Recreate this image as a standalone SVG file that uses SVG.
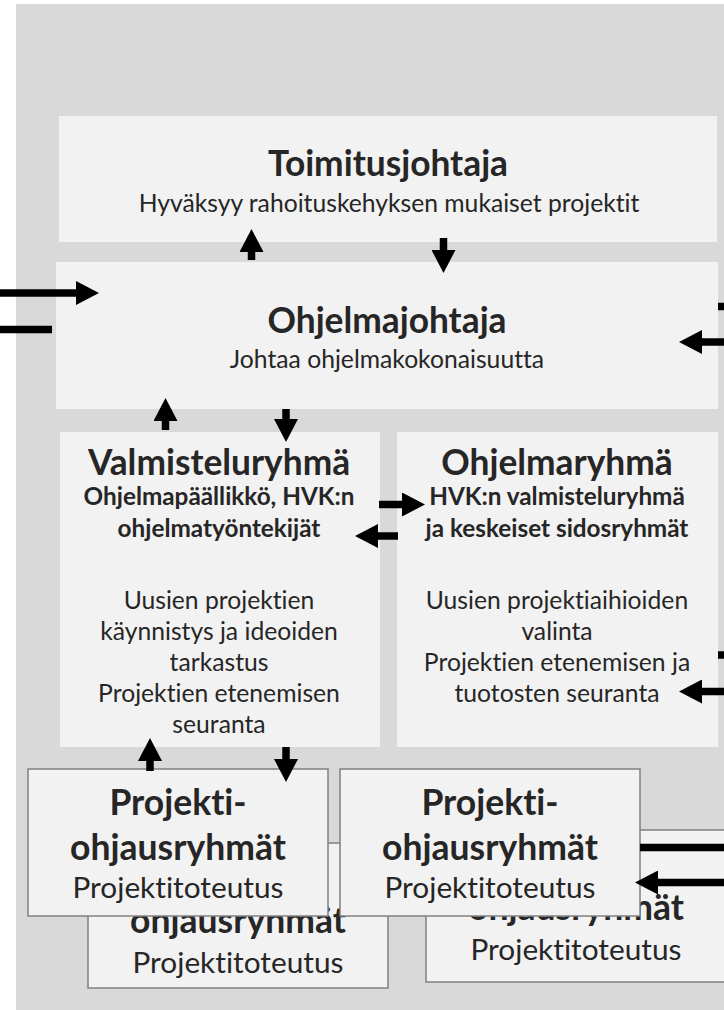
<svg xmlns="http://www.w3.org/2000/svg" width="724" height="1010" viewBox="0 0 724 1010">
<style>
.panel{fill:#d9d9d9}
.box{fill:#f2f2f2}
.bbox{fill:#f2f2f2;stroke:#808080;stroke-width:1.5}
text{font-family:Lato,"Liberation Sans",sans-serif;fill:#262626;text-anchor:middle;font-variant-ligatures:none;font-feature-settings:"liga" 0,"dlig" 0}
.t{font-size:35.3px;font-weight:700}
.s{font-size:24.7px}
.sb{font-size:24.3px;font-weight:700}
.ft{font-size:35.5px;font-weight:700}
.fs{font-size:29.8px}
.c{fill:none;stroke:#000;stroke-width:7.5}
.ca{fill:none;stroke:#000;stroke-width:7.5;marker-end:url(#ah)}
</style>
<defs>
<marker id="ah" markerUnits="userSpaceOnUse" markerWidth="24" markerHeight="24" viewBox="0 0 23 24" refX="1" refY="12" orient="auto">
<path d="M0,0 L23,12 L0,24 Z" fill="#000"/>
</marker>
</defs>
<rect class="panel" x="16" y="4" width="708" height="1006"/>
<g id="toimitusjohtaja">
<rect class="box" x="59" y="116" width="658" height="126"/>
<text class="t" x="388" y="176">Toimitusjohtaja</text>
<text class="s" x="389" y="212">Hyväksyy rahoituskehyksen mukaiset projektit</text>
</g>
<g id="ohjelmajohtaja">
<rect class="box" x="56" y="262" width="662" height="147"/>
<text class="t" x="387" y="333">Ohjelmajohtaja</text>
<text class="s" x="387" y="368">Johtaa ohjelmakokonaisuutta</text>
</g>
<g id="valmisteluryhma">
<rect class="box" x="60" y="432" width="320" height="315"/>
<text class="t" x="219" y="475">Valmisteluryhmä</text>
<text class="sb" x="219" y="505">Ohjelmapäällikkö, HVK:n</text>
<text class="sb" x="219" y="537">ohjelmatyöntekijät</text>
<text class="s" x="219" y="609">Uusien projektien</text>
<text class="s" x="219" y="640">käynnistys ja ideoiden</text>
<text class="s" x="219" y="671">tarkastus</text>
<text class="s" x="219" y="702">Projektien etenemisen</text>
<text class="s" x="219" y="733">seuranta</text>
</g>
<g id="ohjelmaryhma">
<rect class="box" x="397" y="432" width="321" height="315"/>
<text class="t" x="557" y="475">Ohjelmaryhmä</text>
<text class="sb" x="557" y="505">HVK:n valmisteluryhmä</text>
<text class="sb" x="557" y="537">ja keskeiset sidosryhmät</text>
<text class="s" x="557" y="609">Uusien projektiaihioiden</text>
<text class="s" x="557" y="640">valinta</text>
<text class="s" x="557" y="671">Projektien etenemisen ja</text>
<text class="s" x="557" y="702">tuotosten seuranta</text>
</g>
<g id="projektiohjausryhmat-back-left">
<rect class="bbox" x="88" y="843" width="300" height="145"/>
<text class="ft" x="238" y="933">ohjausryhmät</text>
<text class="fs" x="238" y="973">Projektitoteutus</text>
</g>
<g id="projektiohjausryhmat-back-right">
<rect class="bbox" x="426" y="830" width="302" height="152"/>
<text class="ft" x="576" y="920">ohjausryhmät</text>
<text class="fs" x="576" y="960">Projektitoteutus</text>
</g>
<g id="projektiohjausryhmat-left">
<rect class="bbox" x="28" y="769" width="300" height="147"/>
<text class="ft" x="178" y="815">Projekti-</text>
<text class="ft" x="178" y="860">ohjausryhmät</text>
<text class="fs" x="178" y="898">Projektitoteutus</text>
</g>
<g id="projektiohjausryhmat-right">
<rect class="bbox" x="340" y="769" width="300" height="147"/>
<text class="ft" x="490" y="815">Projekti-</text>
<text class="ft" x="490" y="860">ohjausryhmät</text>
<text class="fs" x="490" y="898">Projektitoteutus</text>
</g>
<g id="connectors">
<path class="ca" d="M0,293 H77"/>
<path class="c" d="M0,329.5 H52"/>
<path class="ca" d="M251.5,260 V251"/>
<path class="ca" d="M443.5,238 V251"/>
<path class="c" d="M718,306.5 H724"/>
<path class="ca" d="M724,342 H701"/>
<path class="ca" d="M165.5,430 V420"/>
<path class="ca" d="M286,409 V420"/>
<path class="ca" d="M379,504.5 H403"/>
<path class="ca" d="M398,536 H377"/>
<path class="c" d="M718,655 H724"/>
<path class="ca" d="M724,691.5 H701"/>
<path class="ca" d="M150,771 V760"/>
<path class="ca" d="M286,747 V760"/>
<path class="c" d="M640,847.5 H724"/>
<path class="ca" d="M724,882.5 H657"/>
</g>
</svg>
